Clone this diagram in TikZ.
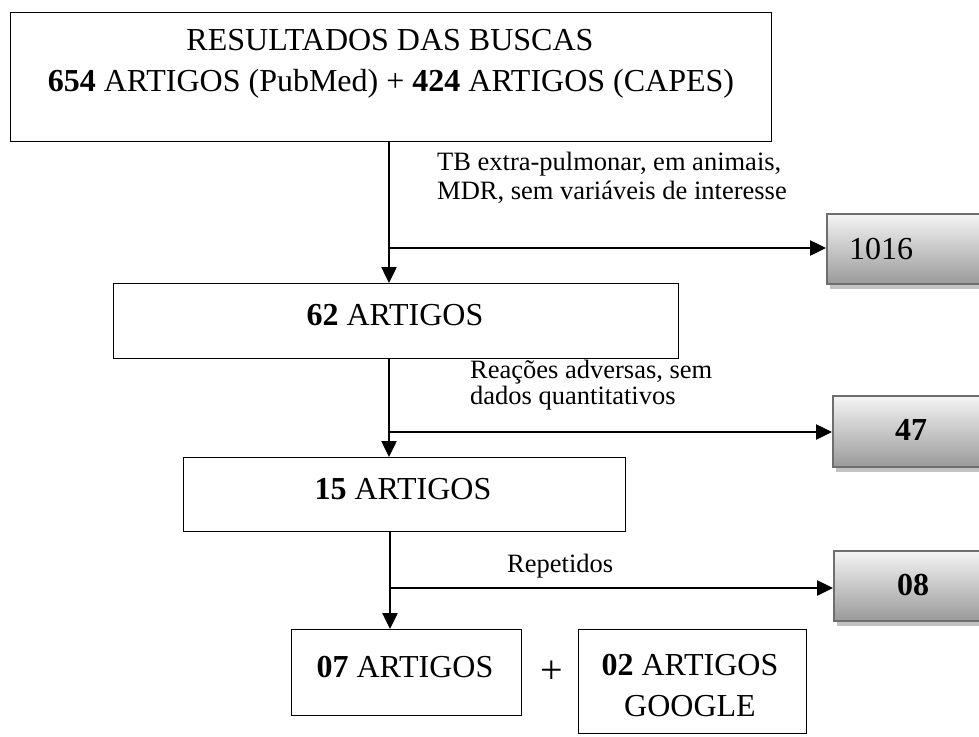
\documentclass[tikz,border=0pt]{standalone}
\usepackage{fontspec}
\setmainfont{Liberation Serif}
\usetikzlibrary{arrows.meta}
\definecolor{gborder}{HTML}{6E6E6E}
\definecolor{gtop}{HTML}{F4F4F4}
\definecolor{gbot}{HTML}{9A9A9A}
\definecolor{gshadow}{HTML}{C2C2C2}
\tikzset{
  box/.style={draw=black, line width=1.3pt, rectangle, inner sep=0pt, anchor=north west},
  gbox/.style={draw=gborder, line width=2pt, rectangle, top color=gtop, bottom color=gbot, inner sep=0pt, anchor=north west},
  arr/.style={line width=2.5pt, -{Triangle[length=16pt,width=15pt]}},
  big/.style={font=\fontsize{32}{38}\selectfont, inner sep=0pt, anchor=base},
  lab/.style={font=\fontsize{26.5}{30}\selectfont, anchor=base west, inner sep=0pt},
}
\begin{document}
\begin{tikzpicture}[x=1pt,y=-1pt]
\useasboundingbox (0,0) rectangle (979,736);
% main boxes
\node[box, minimum width=761pt, minimum height=129pt] (b1) at (10,12) {};
\node[box, minimum width=565pt, minimum height=75pt] (b2) at (113,283) {};
\node[box, minimum width=442pt, minimum height=74pt] (b3) at (183,457) {};
\node[box, minimum width=230pt, minimum height=86pt] (b4) at (291,629) {};
\node[box, minimum width=228pt, minimum height=104pt] (b5) at (578,629) {};
% texts in boxes
\node[big] (t1a) at (390,50) {RESULTADOS DAS BUSCAS};
\node[big] (t1b) at (391,91) {\textbf{654} ARTIGOS (PubMed) + \textbf{424} ARTIGOS (CAPES)};
\node[big] (t2) at (395,325) {\textbf{62} ARTIGOS};
\node[big] (t3) at (403,499) {\textbf{15} ARTIGOS};
\node[big] (t4) at (405,677) {\textbf{07} ARTIGOS};
\node[big] (t5a) at (690,675) {\textbf{02} ARTIGOS};
\node[big] (t5b) at (690,716) {GOOGLE};
\node[font=\fontsize{40}{44}\selectfont, inner sep=0pt] (plus) at (552,672) {+};
% gray boxes with shadow
\fill[gshadow] (830,218) rectangle (1000,289);
\node[gbox, minimum width=170pt, minimum height=70pt] (g1) at (826,213) {};
\fill[gshadow] (836,400) rectangle (1000,472);
\node[gbox, minimum width=170pt, minimum height=71pt] (g2) at (832,395) {};
\fill[gshadow] (837,555) rectangle (1000,626);
\node[gbox, minimum width=170pt, minimum height=70pt] (g3) at (833,550) {};
\node[big, anchor=base west] (n1) at (849,259) {1016};
\node[big] (n2) at (911,440) {\textbf{47}};
\node[big] (n3) at (913,595) {\textbf{08}};
% labels
\node[lab] (l1a) at (437,170) {TB extra-pulmonar, em animais,};
\node[lab] (l1b) at (437,199) {MDR, sem variáveis de interesse};
\node[lab] (l2a) at (470,378) {Reações adversas, sem};
\node[lab] (l2b) at (470,404) {dados quantitativos};
\node[lab] (l3) at (507,572) {Repetidos};
% connectors
\coordinate (j1) at (389,248);
\coordinate (j2) at (389,432);
\coordinate (j3) at (390,588);
\draw[arr] (b1.south -| j1) -- (b2.north -| j1);
\draw[arr] (j1) -- (j1 -| g1.west);
\draw[arr] (b2.south -| j2) -- (b3.north -| j2);
\draw[arr] (j2) -- (j2 -| g2.west);
\draw[arr] (b3.south -| j3) -- (b4.north -| j3);
\draw[arr] (j3) -- (j3 -| g3.west);
\end{tikzpicture}
\end{document}
